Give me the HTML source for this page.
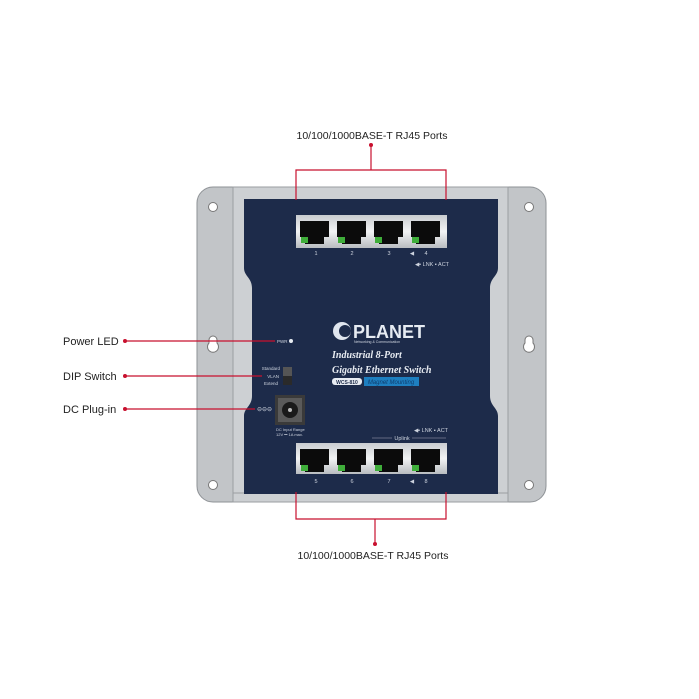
<!DOCTYPE html>
<html><head><meta charset="utf-8"><style>
html,body{margin:0;padding:0;background:#fff;width:699px;height:699px;overflow:hidden}
svg{display:block}
text{font-family:"Liberation Sans",sans-serif}
</style></head><body>
<svg width="699" height="699" viewBox="0 0 699 699" xmlns="http://www.w3.org/2000/svg">
<defs>
<linearGradient id="pg" x1="0" y1="0" x2="0" y2="1">
<stop offset="0" stop-color="#c9ccd0"/><stop offset="0.5" stop-color="#f2f3f4"/><stop offset="1" stop-color="#b8bcc0"/>
</linearGradient>
<g id="port">
<path d="M0 4 H29 V20 H24 V27 H5 V20 H0 Z" fill="#0b0b0b"/>
<rect x="1" y="20" width="7" height="6" fill="#3fae3a"/>
</g>
</defs>
<!-- plate -->
<rect x="197" y="187" width="349" height="315" rx="16" fill="#c2c5c8" stroke="#8e9296" stroke-width="1"/>
<rect x="233" y="187" width="275" height="315" fill="#cdd0d3" stroke="#9a9ea2"/>
<line x1="233" y1="493" x2="508" y2="493" stroke="#9a9ea2"/>
<!-- holes -->
<g fill="#fff" stroke="#777" stroke-width="1">
<circle cx="213" cy="207" r="4.5"/><circle cx="529" cy="207" r="4.5"/>
<circle cx="213" cy="485" r="4.5"/><circle cx="529" cy="485" r="4.5"/>
<path d="M213 336 a4 4 0 0 1 4 4 v3 a5.5 5.5 0 1 1 -8 0 v-3 a4 4 0 0 1 4 -4z"/>
<path d="M529 336 a4 4 0 0 1 4 4 v3 a5.5 5.5 0 1 1 -8 0 v-3 a4 4 0 0 1 4 -4z"/>
</g>
<!-- blue panel -->
<path d="M244 199 H498 V268 C498 276 490 278 490 288 V396 C490 406 498 408 498 416 V494 H244 V416 C244 408 252 406 252 396 V288 C252 278 244 276 244 268 Z" fill="#1d2b4a"/>
<!-- top ports -->
<rect x="296" y="215" width="151" height="33" fill="url(#pg)"/>
<use href="#port" x="300" y="217"/><use href="#port" x="337" y="217"/><use href="#port" x="374" y="217"/><use href="#port" x="411" y="217"/>
<g fill="#cdd3de" font-size="5.5" text-anchor="middle">
<text x="316" y="255">1</text><text x="352" y="255">2</text><text x="389" y="255">3</text><text x="426" y="255">4</text>
<text x="432" y="266">◀▪ LNK  ▪ ACT</text>
<text x="412" y="255">◀</text>
</g>
<!-- bottom ports -->
<rect x="296" y="443" width="151" height="31" fill="url(#pg)"/>
<use href="#port" x="300" y="445"/><use href="#port" x="337" y="445"/><use href="#port" x="374" y="445"/><use href="#port" x="411" y="445"/>
<g fill="#cdd3de" font-size="5.5" text-anchor="middle">
<text x="316" y="483">5</text><text x="352" y="483">6</text><text x="389" y="483">7</text><text x="426" y="483">8</text>
<text x="412" y="483">◀</text>
<text x="431" y="432">◀▪ LNK  ▪ ACT</text>
<text x="402" y="440">Uplink</text>
</g>
<line x1="372" y1="438" x2="392" y2="438" stroke="#aab" stroke-width="0.5"/>
<line x1="412" y1="438" x2="446" y2="438" stroke="#aab" stroke-width="0.5"/>
<!-- logo -->
<circle cx="342" cy="331" r="9" fill="#dfe5ee"/>
<circle cx="345" cy="331" r="6" fill="#1d2b4a"/>
<text x="353" y="338" font-size="18" font-weight="bold" fill="#e6ebf2">PLANET</text>
<text x="354" y="343" font-size="3.5" fill="#cdd3de">Networking &amp; Communication</text>
<text x="332" y="358" font-size="10" font-weight="bold" font-style="italic" fill="#e8ecf2" style="font-family:'Liberation Serif',serif">Industrial 8-Port</text>
<text x="332" y="373" font-size="10" font-weight="bold" font-style="italic" fill="#e8ecf2" style="font-family:'Liberation Serif',serif">Gigabit Ethernet Switch</text>
<rect x="332" y="378" width="30" height="7" rx="3" fill="#e8ecf2"/>
<text x="347" y="384" font-size="5" text-anchor="middle" fill="#1d2b4a" font-weight="bold">WCS-810</text>
<rect x="364" y="377" width="55" height="9" fill="#1e7fc0"/>
<text x="391" y="384" font-size="6" text-anchor="middle" fill="#0f3d6e" font-style="italic">Magnet Mounting</text>
<!-- PWR, DIP, DC -->
<text x="277" y="343" font-size="4.5" fill="#cdd3de">PWR</text>
<circle cx="291" cy="341" r="2" fill="#e8ecf2"/>
<g font-size="4.5" fill="#cdd3de" text-anchor="end"><text x="280" y="370">Standard</text><text x="279" y="378">VLAN</text><text x="278" y="385">Extend</text></g>
<rect x="283" y="367" width="9" height="18" fill="#2a2a2a"/>
<rect x="283" y="367" width="9" height="9" fill="#555"/>
<rect x="275" y="395" width="30" height="30" fill="#3a3a3a"/>
<rect x="278" y="398" width="24" height="24" fill="#5a5a5a"/>
<circle cx="290" cy="410" r="8" fill="#1a1a1a"/><circle cx="290" cy="410" r="2" fill="#bbb"/>
<text x="257" y="411" font-size="6" fill="#cdd3de">⊖⊖⊖</text>
<text x="276" y="431" font-size="4" fill="#cdd3de">DC Input Range</text>
<text x="276" y="436" font-size="4" fill="#cdd3de">12V ⎓ 1A max.</text>
<!-- callouts -->
<g stroke="#c8102e" stroke-width="1.2" fill="none">
<path d="M296 200 V170 H446 V200"/><line x1="371" y1="170" x2="371" y2="145"/>
<path d="M296 492 V519 H446 V492"/><line x1="375" y1="519" x2="375" y2="544"/>
<line x1="125" y1="341" x2="275" y2="341"/>
<line x1="125" y1="376" x2="262" y2="376"/>
<line x1="125" y1="409" x2="255" y2="409"/>
</g>
<g fill="#c8102e"><circle cx="371" cy="145" r="2"/><circle cx="375" cy="544" r="2"/><circle cx="125" cy="341" r="2"/><circle cx="125" cy="376" r="2"/><circle cx="125" cy="409" r="2"/></g>
<g font-size="10.5" fill="#222">
<text x="372" y="139" text-anchor="middle">10/100/1000BASE-T RJ45 Ports</text>
<text x="373" y="559" text-anchor="middle">10/100/1000BASE-T RJ45 Ports</text>
<text x="63" y="345" font-size="11">Power LED</text>
<text x="63" y="380" font-size="11">DIP Switch</text>
<text x="63" y="413" font-size="11">DC Plug-in</text>
</g>
</svg>
</body></html>
